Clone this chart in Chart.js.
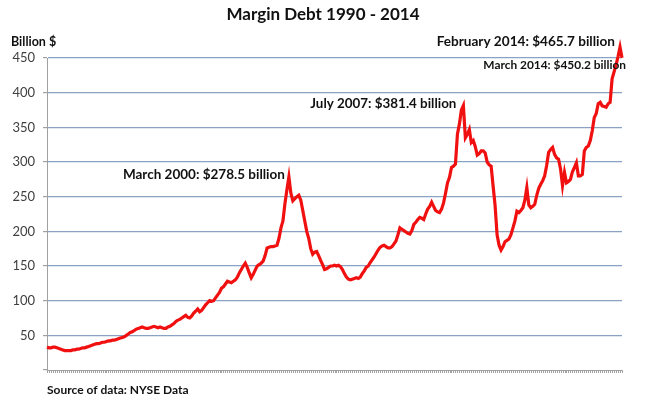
<!DOCTYPE html>
<html>
<head>
<meta charset="utf-8">
<script src="https://cdn.jsdelivr.net/npm/chart.js@4.4.1/dist/chart.umd.min.js"></script>
<style>
  html, body { margin: 0; padding: 0; background: #ffffff; }
  #wrap { position: relative; width: 645px; height: 409px; }
</style>
</head>
<body>
<div id="wrap"><canvas id="c" width="645" height="409"></canvas></div>
<script>
// ---- Data (NYSE margin debt, billions of dollars, monthly Jan 1990 - Mar 2014) ----
const years = [1990,1991,1992,1993,1994,1995,1996,1997,1998,1999,2000,2001,2002,2003,2004,2005,2006,2007,2008,2009,2010,2011,2012,2013,2014];
const monthNames = ['Jan','Feb','Mar','Apr','May','Jun','Jul','Aug','Sep','Oct','Nov','Dec'];

const marginDebt = [
  33, 32, 32, 33, 33, 32, 31, 30, 29, 28, 28, 28,            // 1990
  28, 29, 29, 30, 30, 31, 32, 32, 33, 34, 35, 36,            // 1991
  37, 38, 38, 39, 40, 40, 41, 42, 42, 43, 43, 44,            // 1992
  45, 46, 47, 48, 50, 52, 54, 55, 57, 59, 60, 61,            // 1993
  62, 61, 60, 60, 61, 62, 63, 62, 61, 62, 61, 60,            // 1994
  60, 62, 63, 65, 67, 70, 72, 73, 75, 77, 79, 76,            // 1995
  75, 78, 82, 85, 88, 84, 86, 90, 94, 97, 100, 99,           // 1996
  100, 104, 108, 112, 118, 120, 124, 128, 127, 126, 128, 130, // 1997
  134, 140, 145, 150, 154, 148, 140, 133, 138, 144, 150, 152, // 1998
  154, 157, 165, 176, 177, 178, 178, 179, 180, 190, 205, 215, // 1999
  240, 260, 278.5, 255, 244, 247, 250, 252, 245, 230, 215, 200, // 2000
  190, 175, 167, 170, 171, 165, 158, 152, 145, 146, 148, 150, // 2001
  150, 151, 150, 151, 149, 145, 139, 134, 131, 130, 131, 132, // 2002
  133, 132, 134, 139, 143, 148, 150, 155, 159, 163, 168, 173, // 2003
  177, 179, 180, 178, 176, 176, 178, 182, 186, 195, 205, 203, // 2004
  201, 199, 197, 196, 201, 210, 213, 217, 220, 219, 217, 225, // 2005
  232, 236, 242, 236, 230, 228, 227, 232, 241, 255, 270, 278, // 2006
  292, 294, 297, 340, 355, 375, 381.4, 335, 340, 347, 328, 331, // 2007
  322, 310, 312, 316, 316, 313, 300, 296, 294, 265, 237, 195, // 2008
  180, 173, 178, 185, 187, 189, 195, 205, 215, 229, 227, 230, // 2009
  234, 245, 263, 238, 234, 236, 239, 252, 262, 268, 273, 280, // 2010
  295, 314, 318, 321, 311, 306, 304, 290, 266, 285, 270, 272, // 2011
  275, 286, 292, 299, 280, 280, 282, 316, 321, 323, 331, 345, // 2012
  364, 370, 384, 386, 381, 380, 379, 384, 386, 420, 430, 440, // 2013
  452, 465.7, 450.2                                            // 2014
];

const yTickValues = [0, 50, 100, 150, 200, 250, 300, 350, 400, 450];

const annotationLabels = ['March 2000: $278.5 billion', 'July 2007: $381.4 billion', 'February 2014: $465.7 billion', 'March 2014: $450.2 billion'];
const annotationMonths = ['Mar 2000', 'Jul 2007', 'Feb 2014', 'Mar 2014'];

const titleText = 'Margin Debt 1990 - 2014';
const yAxisTitle = 'Billion $';
const sourceText = 'Source of data: NYSE Data';

// ---- Build month labels ----
const labels = [];
years.forEach(y => monthNames.forEach(m => labels.push(m + ' ' + y)));
labels.length = marginDebt.length;

const FONT = 'Lato, "Liberation Sans", sans-serif';

// minor monthly tick marks under the x axis, placed by the x scale
const xTicksPlugin = {
  id: 'xMinorTicks',
  afterDraw(chart) {
    const ctx = chart.ctx;
    const xs = chart.scales.x;
    const y0 = chart.chartArea.bottom;
    ctx.save();
    ctx.strokeStyle = '#a0a0a0';
    ctx.lineWidth = 1;
    ctx.beginPath();
    for (let i = 0; i < labels.length; i++) {
      const px = Math.round(xs.getPixelForValue(i)) + 0.5;
      ctx.moveTo(px, y0);
      ctx.lineTo(px, y0 + 3);
    }
    ctx.stroke();
    ctx.restore();
  }
};

const textPlugin = {
  id: 'texts',
  afterDraw(chart) {
    const ctx = chart.ctx;
    const xs = chart.scales.x, ys = chart.scales.y;
    ctx.save();
    ctx.fillStyle = '#111111';
    ctx.textBaseline = 'middle';
    // Title
    ctx.font = 'bold 17px ' + FONT;
    ctx.textAlign = 'center';
    ctx.fillText(titleText, 323, 15);
    // Y axis title
    ctx.font = 'bold 12.5px ' + FONT;
    ctx.textAlign = 'left';
    ctx.fillText(yAxisTitle, 11, 42);
    // Source
    ctx.font = 'bold 12px ' + FONT;
    ctx.fillText(sourceText, 47, 390);
    // Annotations
    const specs = [
      { dx: -4, dy: -2, size: 13.5 },
      { dx: -7, dy: -2, size: 13.4 },
      { dx: -5, dy: -6, size: 13.6 },
      { dx: 4, dy: 7, size: 11.9 }
    ];
    annotationMonths.forEach((lab, i) => {
      const idx = labels.indexOf(lab);
      const px = xs.getPixelForValue(idx);
      const py = ys.getPixelForValue(marginDebt[idx]);
      ctx.font = 'bold ' + specs[i].size + 'px ' + FONT;
      ctx.textAlign = 'right';
      ctx.fillText(annotationLabels[i], px + specs[i].dx, py + specs[i].dy);
    });
    ctx.restore();
  }
};

new Chart(document.getElementById('c'), {
  type: 'line',
  data: {
    labels: labels,
    datasets: [{
      data: marginDebt,
      borderColor: '#f01010',
      borderWidth: 3.2,
      pointRadius: 0,
      tension: 0,
      fill: false,
      clip: false
    }]
  },
  options: {
    responsive: false,
    animation: false,
    devicePixelRatio: 1,
    layout: { padding: { left: 0, right: 23, top: 58, bottom: 34 } },
    plugins: { legend: { display: false }, title: { display: false }, tooltip: { enabled: false } },
    scales: {
      x: {
        type: 'category',
        offset: false,
        afterFit(s) { s.height = 5; },
        ticks: { display: false, autoSkip: false },
        grid: { display: false },
        border: { display: true, color: '#a0a0a0', width: 1 }
      },
      y: {
        min: 0,
        max: 450,
        afterFit(s) { s.width = 47; },
        afterBuildTicks(s) { s.ticks = yTickValues.map(v => ({ value: v })); },
        ticks: {
          stepSize: 50,
          padding: 8,
          color: '#404040',
          font: { family: FONT, size: 13 },
          callback: v => (v === 0 ? '' : String(v))
        },
        grid: {
          drawTicks: true,
          tickLength: 4,
          tickColor: '#a0a0a0',
          color: ctx => (ctx.tick && ctx.tick.value === 0 ? 'rgba(0,0,0,0)' : '#8aa3c4'),
          lineWidth: 1.2
        },
        border: { display: true, color: '#a0a0a0', width: 1 }
      }
    }
  },
  plugins: [xTicksPlugin, textPlugin]
});
</script>
</body>
</html>
